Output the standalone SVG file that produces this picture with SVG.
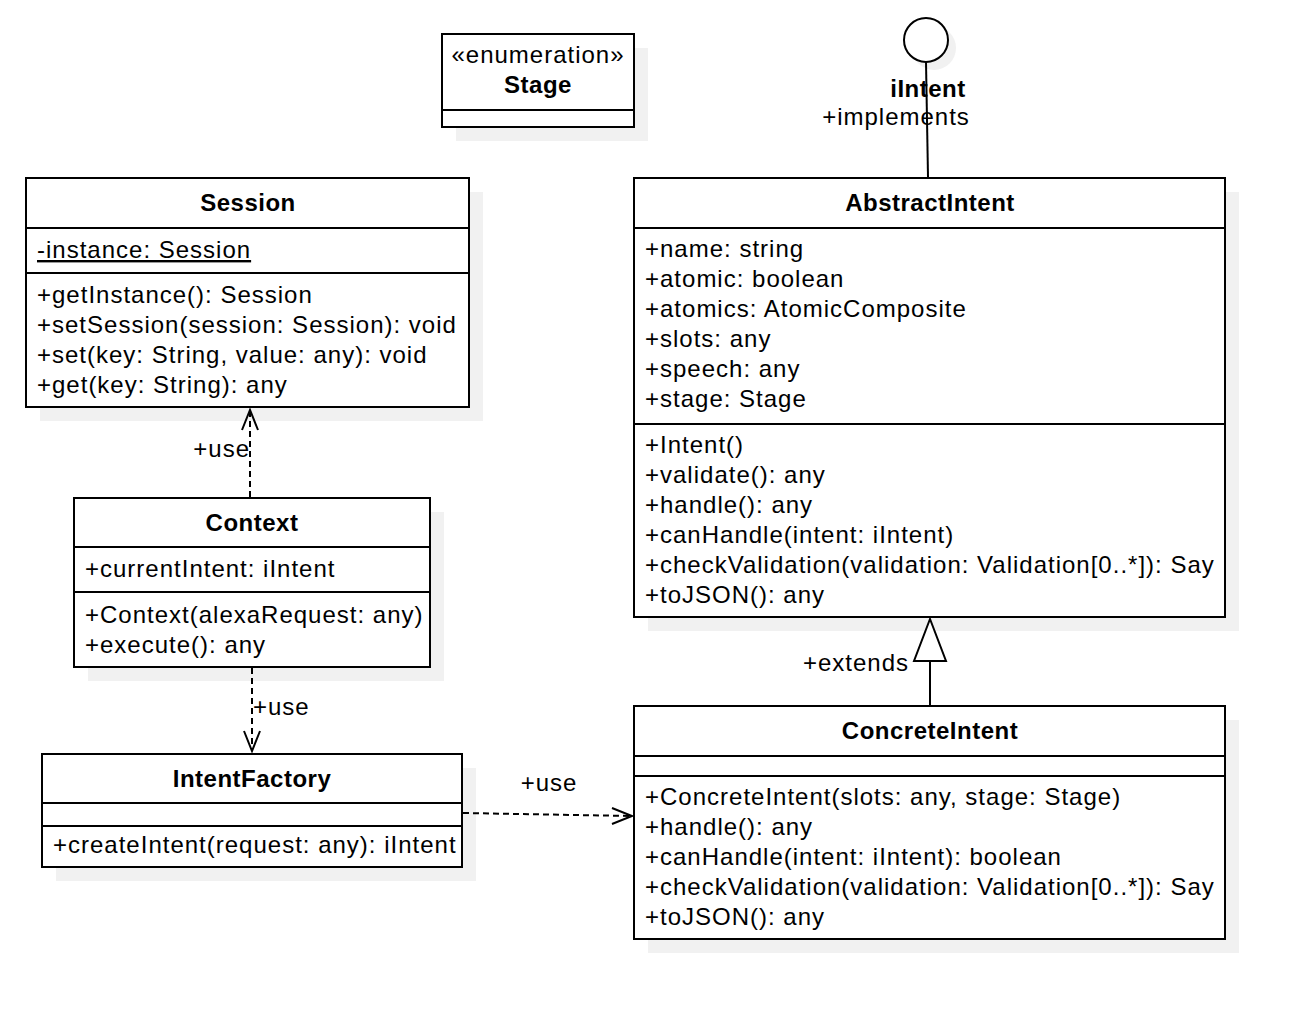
<svg xmlns="http://www.w3.org/2000/svg" width="1300" height="1022" viewBox="0 0 1300 1022">
<defs>
<style>
.box{fill:#ffffff;stroke:#000000;stroke-width:2}
.sh{fill:#f1f1f1;stroke:none}
.div{stroke:#000000;stroke-width:2;fill:none}
text{font-family:"Liberation Sans",Arial,Helvetica,sans-serif;font-size:24px;fill:#000000;letter-spacing:1px}
.t{font-weight:bold;text-anchor:middle;letter-spacing:0.5px}
.c{text-anchor:middle}
.e{text-anchor:end}
.dep{stroke:#000000;stroke-width:2;fill:none;stroke-dasharray:6 4}
.sol{stroke:#000000;stroke-width:2;fill:none}
.head{stroke:#000000;stroke-width:2;fill:none}
</style>
</defs>
<rect width="1300" height="1022" fill="#ffffff"/>

<g id="stage">
<rect class="sh" x="456" y="48" width="192" height="93"/>
<rect class="box" x="442" y="34" width="192" height="93"/>
<line class="div" x1="442" y1="110" x2="634" y2="110"/>
<text class="c" x="538" y="63">«enumeration»</text>
<text class="t" x="538" y="93">Stage</text>
</g>

<g id="iIntent">
<circle cx="934" cy="48" r="22" fill="#f1f1f1"/>
<circle cx="926" cy="40" r="22" fill="#ffffff" stroke="#000000" stroke-width="2"/>
<text class="t" x="928" y="97">iIntent</text>
</g>

<g id="session">
<rect class="sh" x="40" y="192" width="443" height="229"/>
<rect class="box" x="26" y="178" width="443" height="229"/>
<line class="div" x1="26" y1="228" x2="469" y2="228"/>
<line class="div" x1="26" y1="273" x2="469" y2="273"/>
<text class="t" x="248" y="211">Session</text>
<text x="37" y="258" text-decoration="underline">-instance: Session</text>
<text x="37" y="303">+getInstance(): Session</text>
<text x="37" y="333">+setSession(session: Session): void</text>
<text x="37" y="363">+set(key: String, value: any): void</text>
<text x="37" y="393">+get(key: String): any</text>
</g>

<g id="context">
<rect class="sh" x="88" y="512" width="356" height="169"/>
<rect class="box" x="74" y="498" width="356" height="169"/>
<line class="div" x1="74" y1="547" x2="430" y2="547"/>
<line class="div" x1="74" y1="592" x2="430" y2="592"/>
<text class="t" x="252" y="531">Context</text>
<text x="85" y="577">+currentIntent: iIntent</text>
<text x="85" y="623">+Context(alexaRequest: any)</text>
<text x="85" y="653">+execute(): any</text>
</g>

<g id="intentFactory">
<rect class="sh" x="56" y="768" width="420" height="113"/>
<rect class="box" x="42" y="754" width="420" height="113"/>
<line class="div" x1="42" y1="803" x2="462" y2="803"/>
<line class="div" x1="42" y1="826" x2="462" y2="826"/>
<text class="t" x="252" y="787">IntentFactory</text>
<text x="53" y="853">+createIntent(request: any): iIntent</text>
</g>

<g id="abstractIntent">
<rect class="sh" x="648" y="192" width="591" height="439"/>
<rect class="box" x="634" y="178" width="591" height="439"/>
<line class="div" x1="634" y1="228" x2="1225" y2="228"/>
<line class="div" x1="634" y1="424" x2="1225" y2="424"/>
<text class="t" x="930" y="211">AbstractIntent</text>
<text x="645" y="257">+name: string</text>
<text x="645" y="287">+atomic: boolean</text>
<text x="645" y="317">+atomics: AtomicComposite</text>
<text x="645" y="347">+slots: any</text>
<text x="645" y="377">+speech: any</text>
<text x="645" y="407">+stage: Stage</text>
<text x="645" y="453">+Intent()</text>
<text x="645" y="483">+validate(): any</text>
<text x="645" y="513">+handle(): any</text>
<text x="645" y="543">+canHandle(intent: iIntent)</text>
<text x="645" y="573">+checkValidation(validation: Validation[0..*]): Say</text>
<text x="645" y="603">+toJSON(): any</text>
</g>

<g id="concreteIntent">
<rect class="sh" x="648" y="720" width="591" height="233"/>
<rect class="box" x="634" y="706" width="591" height="233"/>
<line class="div" x1="634" y1="756" x2="1225" y2="756"/>
<line class="div" x1="634" y1="776" x2="1225" y2="776"/>
<text class="t" x="930" y="739">ConcreteIntent</text>
<text x="645" y="805">+ConcreteIntent(slots: any, stage: Stage)</text>
<text x="645" y="835">+handle(): any</text>
<text x="645" y="865">+canHandle(intent: iIntent): boolean</text>
<text x="645" y="895">+checkValidation(validation: Validation[0..*]): Say</text>
<text x="645" y="925">+toJSON(): any</text>
</g>

<g id="connectors">
<line class="sol" x1="926" y1="62" x2="928" y2="177"/>
<text class="c" x="896" y="125">+implements</text>

<line class="dep" x1="250" y1="497" x2="250" y2="410"/>
<polyline class="head" points="242,430 250,410 258,430"/>
<text class="e" x="250" y="457">+use</text>

<line class="dep" x1="252" y1="668" x2="252" y2="751"/>
<polyline class="head" points="244,731 252,751 260,731"/>
<text x="253" y="715">+use</text>

<line class="dep" x1="463" y1="813" x2="632" y2="816"/>
<polyline class="head" points="612,808 632,816 612,824"/>
<text class="c" x="549" y="791">+use</text>

<line class="sol" x1="930" y1="705" x2="930" y2="661"/>
<polygon points="930,619 914,661 946,661" fill="#ffffff" stroke="#000000" stroke-width="2"/>
<text class="e" x="909" y="671">+extends</text>
</g>
</svg>
